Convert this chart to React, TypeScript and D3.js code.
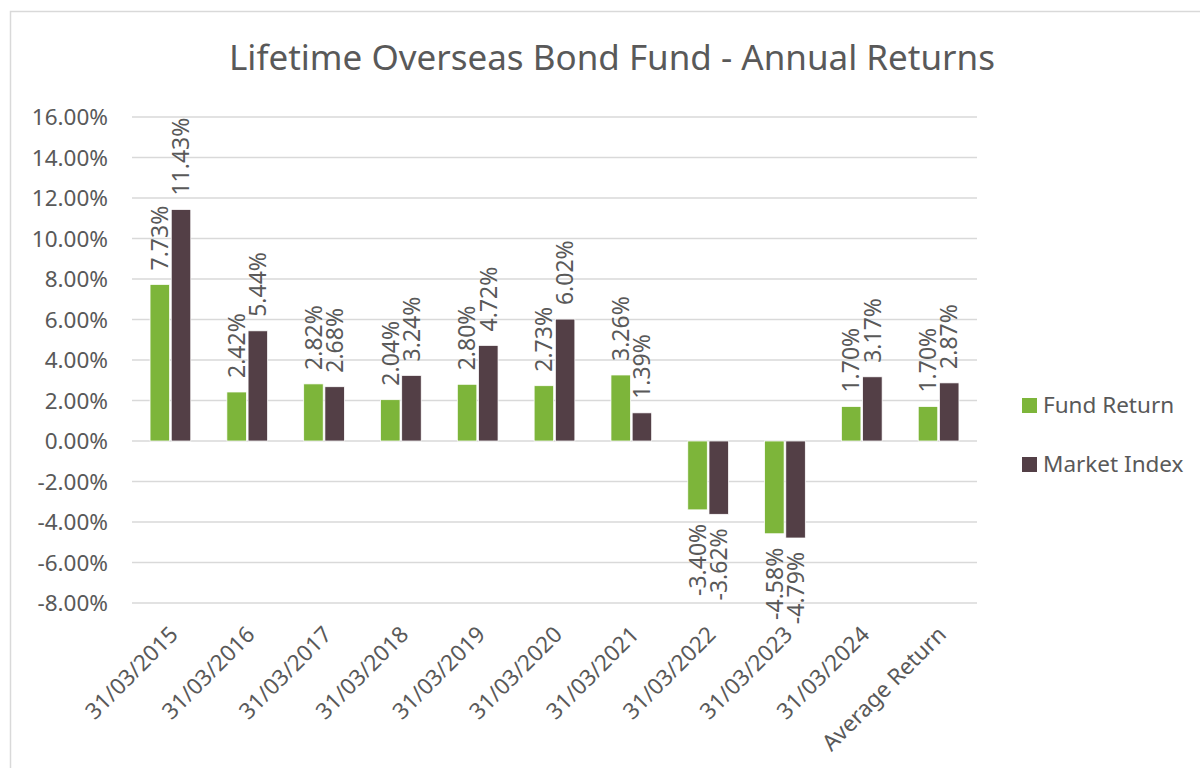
import React, { useEffect, useRef } from "react";
import * as d3 from "d3";

const categories = [
  "31/03/2015",
  "31/03/2016",
  "31/03/2017",
  "31/03/2018",
  "31/03/2019",
  "31/03/2020",
  "31/03/2021",
  "31/03/2022",
  "31/03/2023",
  "31/03/2024",
  "Average Return",
];
const fundReturn = [7.73, 2.42, 2.82, 2.04, 2.8, 2.73, 3.26, -3.4, -4.58, 1.7, 1.7];
const marketIndex = [11.43, 5.44, 2.68, 3.24, 4.72, 6.02, 1.39, -3.62, -4.79, 3.17, 2.87];
const seriesNames = ["Fund Return", "Market Index"];
const yTicks = [16, 14, 12, 10, 8, 6, 4, 2, 0, -2, -4, -6, -8];

const colors = ["#7db53a", "#533f46"];
const textColor = "#595959";
const font = "'Noto Sans', sans-serif";

const App = () => {
  const ref = useRef<SVGSVGElement | null>(null);

  useEffect(() => {
    const svg = d3.select(ref.current);
    svg.selectAll("*").remove();

    // chart border (runs off the right and bottom edge)
    svg
      .append("rect")
      .attr("x", 10.5)
      .attr("y", 11.5)
      .attr("width", 1200)
      .attr("height", 800)
      .attr("fill", "white")
      .attr("stroke", "#d9d9d9")
      .attr("stroke-width", 1.5);

    svg
      .append("text")
      .attr("x", 612)
      .attr("y", 70)
      .attr("text-anchor", "middle")
      .attr("font-family", font)
      .attr("font-size", 35)
      .attr("fill", textColor)
      .text("Lifetime Overseas Bond Fund - Annual Returns");

    const x = d3.scaleBand().domain(categories).range([132, 977]).paddingInner(0.47).paddingOuter(0.235);
    const xs = d3.scaleBand().domain(seriesNames).range([0, x.bandwidth()]).paddingInner(0.08);
    const y = d3.scaleLinear().domain([-8, 16]).range([603, 117]);

    // gridlines + y labels
    const grid = svg.append("g");
    grid
      .selectAll("line")
      .data(yTicks)
      .join("line")
      .attr("x1", 132)
      .attr("x2", 977)
      .attr("y1", (d) => y(d))
      .attr("y2", (d) => y(d))
      .attr("stroke", "#d9d9d9")
      .attr("stroke-width", 1.5);
    grid
      .selectAll("text")
      .data(yTicks)
      .join("text")
      .attr("x", 108)
      .attr("y", (d) => y(d))
      .attr("dy", "0.36em")
      .attr("text-anchor", "end")
      .attr("font-family", font)
      .attr("font-size", 22.5)
      .attr("fill", textColor)
      .text((d) => d.toFixed(2) + "%");

    const data = [fundReturn, marketIndex];

    data.forEach((vals, si) => {
      const g = svg.append("g");
      g.selectAll("rect")
        .data(vals)
        .join("rect")
        .attr("x", (d, i) => x(categories[i])! + xs(seriesNames[si])!)
        .attr("width", xs.bandwidth())
        .attr("y", (d) => y(Math.max(0, d)))
        .attr("height", (d) => Math.abs(y(d) - y(0)))
        .attr("fill", colors[si])
        .attr("stroke", "white")
        .attr("stroke-width", 0.75);

      // value labels, rotated
      g.selectAll("text")
        .data(vals)
        .join("text")
        .attr("transform", (d, i) => {
          const cx = x(categories[i])! + xs(seriesNames[si])! + xs.bandwidth() / 2;
          const cy = d >= 0 ? y(d) - 14 : y(d) + 14;
          return `translate(${cx},${cy}) rotate(-90)`;
        })
        .attr("dy", "0.36em")
        .attr("text-anchor", (d) => (d >= 0 ? "start" : "end"))
        .attr("font-family", font)
        .attr("font-size", 23)
        .attr("fill", textColor)
        .text((d) => d.toFixed(2) + "%");
    });

    // x labels
    svg
      .append("g")
      .selectAll("text")
      .data(categories)
      .join("text")
      .attr("transform", (d) => `translate(${x(d)! + x.bandwidth() / 2 + 9},${636}) rotate(-45)`)
      .attr("text-anchor", "end")
      .attr("font-family", font)
      .attr("font-size", 22.5)
      .attr("fill", textColor)
      .text((d) => d);

    // legend
    const legend = svg
      .append("g")
      .selectAll("g")
      .data(seriesNames)
      .join("g")
      .attr("transform", (d, i) => `translate(1022,${398 + i * 59})`);
    legend.append("rect").attr("width", 15).attr("height", 15).attr("fill", (d, i) => colors[i]);
    legend
      .append("text")
      .attr("x", 21)
      .attr("y", 15)
      .attr("font-family", font)
      .attr("font-size", 22.5)
      .attr("fill", textColor)
      .text((d) => d);
  }, []);

  return <svg ref={ref} width={1200} height={768} style={{ position: "absolute", left: 0, top: 0 }} />;
};

export default App;
